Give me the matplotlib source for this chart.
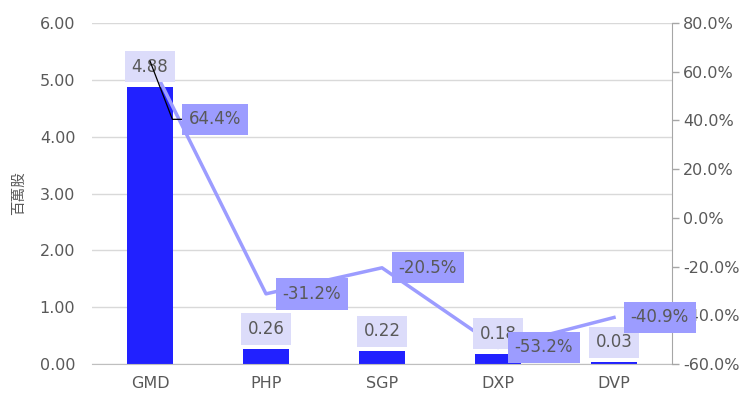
import matplotlib
matplotlib.use('Agg')
import matplotlib.pyplot as plt
from matplotlib.ticker import FuncFormatter

# values
categories = ['GMD', 'PHP', 'SGP', 'DXP', 'DVP']
volumes = [4.88, 0.26, 0.22, 0.18, 0.03]       # 百萬股
changes = [64.4, -31.2, -20.5, -53.2, -40.9]   # %

TXT = '#595959'
BAR = '#2121ff'
LINE = '#9c9cff'
BAR_BOX = '#dcdcfa'
LINE_BOX = '#9c9cff'
FS = 12

plt.rcParams['font.family'] = ['DejaVu Sans', 'Noto Sans CJK TC']

fig = plt.figure(figsize=(7.49, 4.0), dpi=100)
ax = fig.add_axes([0.1228, 0.09, 0.7744, 0.8525])
ax2 = ax.twinx()

x = list(range(len(categories)))
ax.bar(x, volumes, width=0.4, color=BAR, zorder=2)
ax.set_xlim(-0.5, len(categories) - 0.5)
ax.set_ylim(0, 6)
ax.set_yticks([0, 1, 2, 3, 4, 5, 6])
ax.yaxis.set_major_formatter(FuncFormatter(lambda v, p: f'{v:.2f}'))
ax.grid(axis='y', color='#d9d9d9', lw=1, zorder=0)
ax.set_axisbelow(True)
ax.set_xticks(x)
ax.set_xticklabels(categories)
ax.tick_params(axis='both', colors=TXT, labelsize=11.5, length=0)
ax.tick_params(axis='x', pad=9)
ax.tick_params(axis='y', pad=12)
for s in ['top', 'left', 'right']:
    ax.spines[s].set_visible(False)
ax.spines['bottom'].set_color('#bfbfbf')
ax.set_ylabel('百萬股', family='Noto Sans CJK TC', color=TXT, fontsize=10.5, labelpad=10)

ax2.plot(x, changes, color=LINE, lw=2.5, zorder=3)
ax2.set_ylim(-60, 80)
ax2.set_yticks(range(-60, 81, 20))
ax2.yaxis.set_major_formatter(FuncFormatter(lambda v, p: f'{v:.1f}%'))
ax2.tick_params(axis='y', colors=TXT, labelsize=11.5, length=5, width=1, pad=3)
ax2.tick_params(axis='y', color='#a6a6a6')
for s in ['top', 'left', 'bottom']:
    ax2.spines[s].set_visible(False)
ax2.spines['right'].set_color('#a6a6a6')

# bar value labels (drawn on ax2 so they sit above the line)
for xi, v in zip(x, volumes):
    ax2.annotate(f'{v:.2f}', xy=(xi, v), xycoords=ax.transData,
                 xytext=(0, 8), textcoords='offset points',
                 ha='center', va='bottom', color=TXT, fontsize=FS, zorder=5,
                 bbox=dict(boxstyle='square,pad=0.4', fc=BAR_BOX, ec='none'))

# line labels
for i, (xi, c) in enumerate(zip(x, changes)):
    if i == 0:
        ax2.annotate(f'{c:.1f}%', xy=(xi, c), xytext=(28, -42),
                     textcoords='offset points', ha='left', va='center',
                     color=TXT, fontsize=FS, zorder=6,
                     bbox=dict(boxstyle='square,pad=0.4', fc=LINE_BOX, ec='none'),
                     arrowprops=dict(arrowstyle='-', color='black', lw=0.9,
                                     shrinkA=0, shrinkB=0, relpos=(0, 0.5),
                                     connectionstyle='angle,angleA=0,angleB=111,rad=0'))
    else:
        ax2.annotate(f'{c:.1f}%', xy=(xi, c), xytext=(12, 0),
                     textcoords='offset points', ha='left', va='center',
                     color=TXT, fontsize=FS, zorder=6,
                     bbox=dict(boxstyle='square,pad=0.4', fc=LINE_BOX, ec='none'))

fig.savefig('out.png', dpi=100)
